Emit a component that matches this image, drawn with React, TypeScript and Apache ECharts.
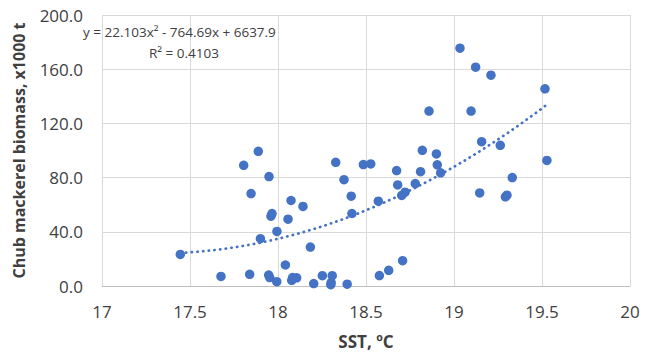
import React, { useEffect, useRef } from "react";
import * as echarts from "echarts";

const sst = [
  17.445, 17.676, 17.805, 17.839, 17.847, 17.888, 17.9, 17.947, 17.949, 17.953,
  17.96, 17.966, 17.993, 17.994, 18.042, 18.057, 18.074, 18.078, 18.083, 18.106,
  18.142, 18.184, 18.203, 18.252, 18.3, 18.302, 18.308, 18.328, 18.375, 18.393,
  18.416, 18.42, 18.485, 18.527, 18.57, 18.576, 18.629, 18.674, 18.68, 18.703,
  18.708, 18.722, 18.78, 18.81, 18.82, 18.858, 18.9, 18.905, 18.924, 19.034,
  19.097, 19.123, 19.146, 19.157, 19.21, 19.263, 19.292, 19.301, 19.331, 19.517,
  19.528,
];
const biomass = [
  23.3, 7.1, 89.1, 8.6, 68.2, 99.4, 34.9, 8.1, 80.8, 6.2,
  51.5, 53.5, 3.2, 40.3, 15.5, 49.3, 63.1, 4.2, 6.2, 6.0,
  58.7, 28.7, 1.8, 7.6, 1.0, 2.5, 7.6, 91.3, 78.5, 1.3,
  66.3, 53.5, 89.6, 90.1, 62.6, 7.7, 11.6, 85.2, 74.6, 66.8,
  18.7, 69.2, 75.6, 84.4, 100.1, 129.1, 97.5, 89.4, 83.5, 175.5,
  129.1, 161.5, 68.7, 106.5, 155.6, 103.8, 65.8, 67.0, 80.0, 145.5,
  92.7,
];
// Trendline coefficients as printed on the chart (a, b, c for ax² + bx + c)
const trendCoef = [22.103, -764.69, 6637.9];
const trendLabel = "y = 22.103x² - 764.69x + 6637.9";
const r2Label = "R² = 0.4103";
const xTitle = "SST, ºC";
const yTitle = "Chub mackerel biomass, x1000 t";

const BLUE = "#4472C4";
const FONT = "'Open Sans', sans-serif";

export default function App() {
  const ref = useRef<HTMLDivElement>(null);
  useEffect(() => {
    if (!ref.current) return;
    const chart = echarts.init(ref.current, undefined, { renderer: "svg" });
    const points = sst.map((x, i) => [x, biomass[i]]);
    const xmin = Math.min(...sst);
    const xmax = Math.max(...sst);
    const trend: number[][] = [];
    const n = 60;
    for (let i = 0; i <= n; i++) {
      const x = xmin + ((xmax - xmin) * i) / n;
      trend.push([x, trendCoef[0] * x * x + trendCoef[1] * x + trendCoef[2]]);
    }
    chart.setOption({
      animation: false,
      grid: { left: 102, right: 16, top: 15, bottom: 68 },
      xAxis: {
        type: "value",
        min: 17,
        max: 20,
        interval: 0.5,
        name: xTitle,
        nameLocation: "middle",
        nameGap: 47,
        nameTextStyle: { fontFamily: FONT, fontSize: 17, fontWeight: "bold", color: "#404040" },
        axisLine: { show: true, lineStyle: { color: "#bfbfbf", width: 1 } },
        axisTick: { show: false },
        axisLabel: {
          fontFamily: FONT,
          fontSize: 17,
          color: "#404040",
          margin: 17,
          formatter: (v: number) => String(Math.round(v * 10) / 10),
        },
        splitLine: { show: true, lineStyle: { color: "#d9d9d9", width: 1 } },
      },
      yAxis: {
        type: "value",
        min: 0,
        max: 200,
        interval: 40,
        name: yTitle,
        nameLocation: "middle",
        nameGap: 75,
        nameTextStyle: { fontFamily: FONT, fontSize: 16, fontWeight: "bold", color: "#404040" },
        axisLine: { show: false },
        axisTick: { show: false },
        axisLabel: {
          fontFamily: FONT,
          fontSize: 17,
          color: "#404040",
          margin: 19,
          formatter: (v: number) => v.toFixed(1),
        },
        splitLine: { show: true, lineStyle: { color: "#d9d9d9", width: 1 } },
      },
      graphic: [
        {
          type: "text",
          left: 83,
          top: 25,
          style: { text: trendLabel, fontFamily: FONT, fontSize: 13.5, fill: "#404040" },
          z: 10,
        },
        {
          type: "text",
          left: 149,
          top: 46,
          style: { text: r2Label, fontFamily: FONT, fontSize: 13.5, fill: "#404040" },
          z: 10,
        },
      ],
      series: [
        {
          type: "line",
          data: trend,
          showSymbol: false,
          smooth: false,
          lineStyle: { color: BLUE, width: 2.7, type: [0.3, 5.4], cap: "round" },
          z: 3,
        },
        {
          type: "scatter",
          data: points,
          symbol: "circle",
          symbolSize: 9.5,
          itemStyle: { color: BLUE, opacity: 1 },
          z: 4,
        },
      ],
    });
    return () => chart.dispose();
  }, []);
  return (
    <div
      ref={ref}
      style={{ position: "absolute", left: 0, top: 0, width: 646, height: 355 }}
    />
  );
}
